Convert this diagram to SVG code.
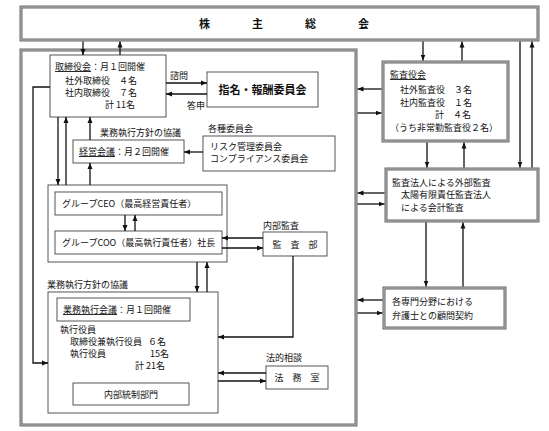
<svg xmlns="http://www.w3.org/2000/svg" width="549" height="431" viewBox="0 0 549 431">
<style>
text{font-family:"Noto Sans CJK JP","Noto Sans CJK SC",sans-serif;font-size:9px;fill:#111}
.u{text-decoration:underline}
.b{font-weight:bold}
.thin{fill:#fff;stroke:#555;stroke-width:1}
.dbl{fill:#fff;stroke:#666;stroke-width:3}
.dbli{fill:none;stroke:#bbb;stroke-width:1}
.c{fill:none;stroke:#111;stroke-width:1.3}
.a{marker-end:url(#ah)}
</style>
<defs>
<marker id="ah" markerUnits="userSpaceOnUse" markerWidth="6" markerHeight="6" refX="6" refY="3" orient="auto">
<path d="M0,0.5 L6,3 L0,5.5 z" fill="#111"/>
</marker>
</defs>
<rect width="549" height="431" fill="#fff"/>

<g id="shareholders">
<rect class="dbl" x="21" y="7" width="517" height="33"/>
<rect class="dbli" x="21" y="7" width="517" height="33"/>
<text class="b" x="199" y="28" style="font-size:11px;letter-spacing:42px">株主総会</text>
</g>

<g id="outer">
<rect class="dbl" x="21" y="50" width="335" height="375"/>
<rect class="dbli" x="21" y="50" width="335" height="375"/>
</g>

<g id="board">
<rect class="thin" x="50" y="55" width="116" height="62"/>
<text x="55" y="70"><tspan class="u">取締役会</tspan>：月１回開催</text>
<text x="65" y="83.5">社外取締役　４名</text>
<text x="65" y="96">社内取締役　７名</text>
<text x="105" y="108">計 11名</text>
</g>

<g id="nomination">
<rect class="thin" x="207" y="72" width="111" height="35"/>
<text class="b" x="262.5" y="93.5" text-anchor="middle" style="font-size:11px">指名・報酬委員会</text>
</g>
<text x="170" y="79">諮問</text>
<text x="187" y="109">答申</text>

<g id="mgmt">
<text x="100" y="136">業務執行方針の協議</text>
<rect class="thin" x="73" y="140" width="111" height="23"/>
<text x="79" y="155"><tspan class="u">経営会議</tspan>：月２回開催</text>
</g>

<g id="committees">
<text x="208" y="132">各種委員会</text>
<rect class="thin" x="203" y="136" width="132" height="35"/>
<text x="210" y="150">リスク管理委員会</text>
<text x="210" y="162">コンプライアンス委員会</text>
</g>

<g id="group">
<rect class="thin" x="48" y="185" width="179" height="77"/>
<rect class="thin" x="55" y="192" width="167" height="23"/>
<text x="62" y="207">グループCEO（最高経営責任者）</text>
<rect class="thin" x="55" y="231" width="167" height="23"/>
<text x="62" y="246">グループCOO（最高執行責任者）社長</text>
</g>

<g id="audit-dept">
<text x="263" y="229">内部監査</text>
<rect class="thin" x="263" y="232" width="64" height="24"/>
<text x="295" y="248" text-anchor="middle">監　査　部</text>
</g>

<g id="exec">
<text x="47" y="288">業務執行方針の協議</text>
<rect class="thin" x="48" y="292" width="170" height="121"/>
<rect class="thin" x="57" y="298" width="133" height="23"/>
<text x="63" y="313"><tspan class="u">業務執行会議</tspan>：月１回開催</text>
<text x="60" y="333">執行役員</text>
<text x="70" y="345">取締役兼執行役員<tspan x="148">６名</tspan></text>
<text x="70" y="357">執行役員<tspan x="150">15名</tspan></text>
<text x="135" y="369">計 21名</text>
<rect class="thin" x="73" y="383" width="116" height="22"/>
<text x="131" y="397.5" text-anchor="middle">内部統制部門</text>
</g>

<g id="legal">
<text x="266" y="361">法的相談</text>
<rect class="thin" x="266" y="366" width="62" height="23"/>
<text x="297" y="381" text-anchor="middle">法　務　室</text>
</g>

<g id="auditors">
<rect class="dbl" x="383" y="62" width="125" height="79"/>
<rect class="dbli" x="383" y="62" width="125" height="79"/>
<text x="390" y="78"><tspan class="u">監査役会</tspan></text>
<text x="400" y="93">社外監査役　３名</text>
<text x="400" y="106">社内監査役　１名</text>
<text x="435" y="118">計　４名</text>
<text x="390" y="131">（うち非常勤監査役２名）</text>
</g>

<g id="external-audit">
<rect class="dbl" x="386" y="169" width="152" height="52"/>
<rect class="dbli" x="386" y="169" width="152" height="52"/>
<text x="392" y="186">監査法人による外部監査</text>
<text x="401" y="198">太陽有限責任監査法人</text>
<text x="401" y="211">による会計監査</text>
</g>

<g id="lawyers">
<rect class="dbl" x="384" y="288" width="121" height="40"/>
<rect class="dbli" x="384" y="288" width="121" height="40"/>
<text x="392" y="305">各専門分野における</text>
<text x="392" y="319">弁護士との顧問契約</text>
</g>

<g id="connectors">
<path class="c a" d="M83,41.5 V55"/>
<path class="c a" d="M120,55 V41.5"/>
<path class="c a" d="M423,41.5 V60.5"/>
<path class="c a" d="M462,60.5 V41.5"/>
<path class="c a" d="M520,41.5 V167.5"/>
<path class="c a" d="M532,167.5 V41.5"/>
<path class="c a" d="M166,83 H207"/>
<path class="c a" d="M207,94 H166"/>
<path class="c a" d="M58,117 V185"/>
<path class="c a" d="M66,185 V117"/>
<path class="c a" d="M90,140 V117"/>
<path class="c a" d="M90,185 V163"/>
<path class="c a" d="M203,152 H184"/>
<path class="c a" d="M125,215 V231"/>
<path class="c a" d="M135,231 V215"/>
<path class="c a" d="M263,238 H222"/>
<path class="c a" d="M222,248 H263"/>
<path class="c a" d="M197,262 V292"/>
<path class="c a" d="M207,292 V262"/>
<path class="c a" d="M293,256 V337 H218"/>
<path class="c a" d="M50,87 H33 V363 H48"/>
<path class="c a" d="M266,373 H218"/>
<path class="c a" d="M218,381 H266"/>
<path class="c a" d="M381.5,89 H357.5"/>
<path class="c a" d="M357.5,113 H381.5"/>
<path class="c a" d="M384.5,193 H357.5"/>
<path class="c a" d="M357.5,204 H384.5"/>
<path class="c a" d="M382.5,300 H357.5"/>
<path class="c a" d="M357.5,313 H382.5"/>
<path class="c a" d="M427,142.5 V167.5"/>
<path class="c a" d="M464,167.5 V142.5"/>
<path class="c a" d="M426,222.5 V286.5"/>
<path class="c a" d="M463,286.5 V222.5"/>
</g>
</svg>
